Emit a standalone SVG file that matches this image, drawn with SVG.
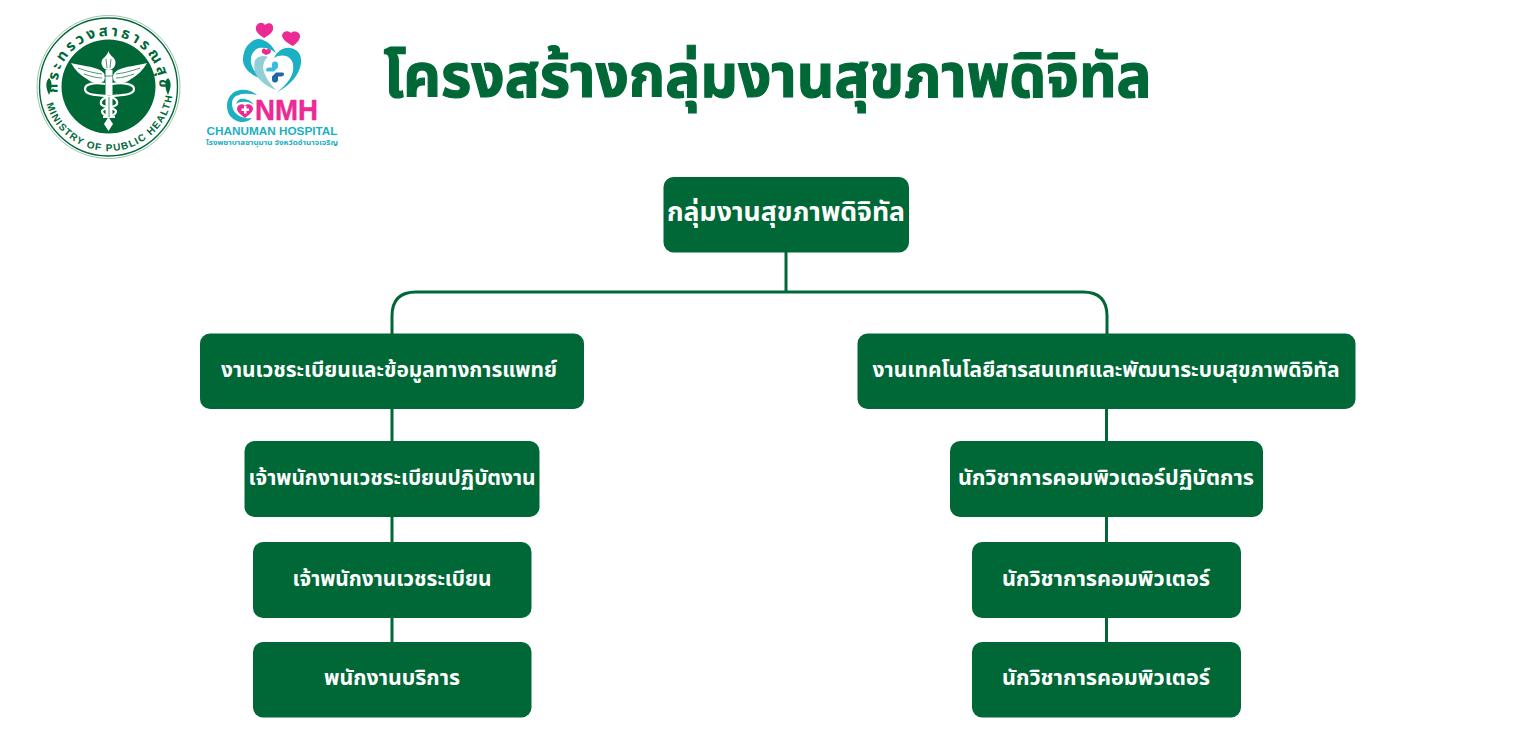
<svg xmlns="http://www.w3.org/2000/svg" width="1538" height="750" viewBox="0 0 1538 750">
<style>
.n{fill:#006837}
.t{fill:#fff;font-family:"Noto Sans Thai","Noto Sans","Liberation Sans",sans-serif;font-weight:700;text-anchor:middle}
.c{fill:none;stroke:#006837;stroke-width:3}
.h{fill:#ec2a94}
.b{fill:#1cb0c4}
.s{fill:#006837;font-family:"Noto Sans Thai","Noto Sans","Liberation Sans",sans-serif;font-weight:700}
.e{fill:none;stroke:#fff;stroke-width:2.200}
.f{fill:none;stroke:#006837;stroke-width:.7}
</style>
<defs>
<path id="top" d="M58 94A51 51 0 1 1 159 94"/>
<path id="bot" d="M45 98A64.500 64.500 0 0 0 172 98"/>
</defs>
<rect width="1538" height="750" fill="#fff"/>
<g id="seal">
<circle cx="108.500" cy="87" r="71.500" fill="#fff" stroke="#9cc4ad" stroke-width="1"/>
<circle cx="108.500" cy="87" r="69" fill="none" stroke="#006837" stroke-width="1.400"/>
<circle cx="108.500" cy="86.500" r="47" fill="#006837"/>
<text class="s" font-size="15" letter-spacing="2.900"><textPath href="#top" startOffset="1">กระทรวงสาธารณสุข</textPath></text>
<text class="s" font-size="10" letter-spacing="1.200" style="font-family:'Liberation Sans',sans-serif"><textPath href="#bot" startOffset="6">MINISTRY OF PUBLIC HEALTH</textPath></text>
<path d="M71 63C82 66 92 66 100 70C105 73 106 76 104 81C98 85 92 83 87 79C80 75 75 70 71 63ZM147 63C136 66 126 66 118 70C113 73 112 76 114 81C120 85 126 83 131 79C138 75 143 70 147 63Z" fill="#fff"/>
<path class="f" d="M78 68C86 71 94 73 102 74M84 74C90 76 96 78 102 78M140 68C132 71 124 73 116 74M134 74C128 76 122 78 116 78"/>
<path d="M108.500 51C110 56 113 56 115 60C117 65 113 70 108.500 70C104 70 100 65 102 60C104 57 107 56 108.500 51Z" fill="#fff"/>
<path class="f" d="M106 59L107 68M111 59L110 68"/>
<rect x="105.500" y="70" width="7" height="25" fill="#fff"/>
<path class="f" d="M104 76H113"/>
<path class="e" d="M105 84C94 82 85 84 85 89C85 95 96 95 106 96C114 97 118 100 117 104C115 108 104 107 102 111C102 115 108 117 115 117"/>
<path class="e" d="M112 84C123 82 134 84 134 89C134 95 122 95 112 96C104 97 100 100 101 104C103 108 114 107 116 111C116 115 110 117 103 117"/>
<path d="M105.500 96h7v22h-7z" fill="#fff"/>
<path class="f" d="M109 97V117"/>
<path d="M108.500 117L113 124L108.500 131L104 124Z" fill="#fff"/>
<path d="M49 78C52 81 53 86 49 95C45 86 46 81 49 78ZM168 78C171 81 172 86 168 95C164 86 165 81 168 78Z" fill="#006837"/>
</g>
<g id="hospital-logo">
<path class="h" d="M264 38C258 34 255 31 256 27C257 23 262 21 265 25C268 22 273 23 273 27C274 31 270 35 264 38Z"/>
<path class="h" d="M293 46C287 43 282 39 282 35C283 31 288 30 291 33C294 30 300 32 300 36C300 40 297 43 293 46Z"/>
<path class="h" d="M266 55C263 54 261 52 262 50C263 48 265 48 266 50C268 48 271 49 271 51C271 53 269 54 266 55Z"/>
<path class="b" d="M265 80C251 76 242 68 243 58C244 46 252 39 259 39C267 40 273 46 276 53C271 49 265 47 259 48C253 50 250 56 251 63C253 71 258 76 265 80Z"/>
<path class="b" d="M277 92C288 84 295 74 293 64C291 56 283 53 274 58C277 51 284 47 290 48C298 49 302 55 301 63C300 74 290 86 277 92Z"/>
<path d="M255 60C258 56 264 55 268 57C264 60 262 66 264 72C266 78 270 84 276 90C266 86 258 80 255 72C254 68 254 64 255 60Z" fill="#8fd0d6"/>
<path d="M266 70.500c0-2 1-3 3-3h3v-3c0-2 1-3 3-3s3 1 3 3v3l-4 4h-5c-2 0-3-.5-3-1z" fill="#36bde0"/>
<path d="M284 73.500c0 2-1 3-3 3h-3v3c0 2-1 3-3 3s-3-1-3-3v-3l4-4h5c2 0 3 .5 3 1z" fill="#1f65ad"/>
<path class="b" d="M257 95C252 91 247 89 240 90C232 91 227 98 227 106C227 115 233 121 241 122C247 122 250 120 252 118C245 119 238 117 234 111C230 104 232 96 239 95C244 93 251 94 257 95Z"/>
<path class="b" d="M236 104C241 101 249 101 254 105C251 100 245 98 240 99C238 100 237 102 236 104Z"/>
<path class="h" d="M245 118C240 114 237 112 237 108C238 104 243 103 245 106C247 103 252 104 253 108C253 112 250 114 245 118Z"/>
<path d="M244 106h2.500v2.500h2.500v2.500h-2.500v2.500h-2.500v-2.500h-2.500v-2.500h2.500z" fill="#fff"/>
<text x="255" y="120" font-family="Liberation Sans,sans-serif" font-weight="700" font-size="30" fill="#ec2a94" textLength="63" lengthAdjust="spacingAndGlyphs" stroke="#ec2a94" stroke-width=".4">NMH</text>
<text x="206.500" y="134.500" font-family="Liberation Sans,sans-serif" font-weight="700" font-size="11.500" fill="#1cb0c4" textLength="131" lengthAdjust="spacingAndGlyphs">CHANUMAN HOSPITAL</text>
<text x="206" y="145" font-family="'Noto Sans Thai',Noto Sans,Liberation Sans,sans-serif" font-weight="700" font-size="7" fill="#1cb0c4" textLength="132" lengthAdjust="spacingAndGlyphs">โรงพยาบาลชานุมาน จังหวัดอำนาจเจริญ</text>
</g>
<text id="title" x="767.500" y="97" class="t" style="fill:#006837;stroke:#006837;stroke-width:1.200" font-size="60" textLength="768" lengthAdjust="spacingAndGlyphs">โครงสร้างกลุ่มงานสุขภาพดิจิทัล</text>
<g id="connectors">
<path class="c" d="M786 252V292"/>
<path class="c" d="M392 334V316Q392 292 416 292H1083Q1107 292 1107 316V334"/>
<path class="c" d="M392 408V642M1106.500 408V642"/>
</g>
<g id="n0"><rect class="n" x="663.500" y="177" width="245.500" height="75.500" rx="10"/><text class="t" x="786" y="221" font-size="26" textLength="238" lengthAdjust="spacingAndGlyphs">กลุ่มงานสุขภาพดิจิทัล</text></g>
<g id="n1"><rect class="n" x="200" y="333.500" width="384" height="75.500" rx="10"/><text class="t" x="389" y="377" font-size="21" textLength="336" lengthAdjust="spacingAndGlyphs">งานเวชระเบียนและข้อมูลทางการแพทย์</text></g>
<g id="n2"><rect class="n" x="857.500" y="333.500" width="498" height="75.500" rx="10"/><text class="t" x="1106" y="377" font-size="21" textLength="467" lengthAdjust="spacingAndGlyphs">งานเทคโนโลยีสารสนเทศและพัฒนาระบบสุขภาพดิจิทัล</text></g>
<g id="n3"><rect class="n" x="244.500" y="441" width="295" height="76" rx="10"/><text class="t" x="392" y="485" font-size="21" textLength="287" lengthAdjust="spacingAndGlyphs">เจ้าพนักงานเวชระเบียนปฏิบัตงาน</text></g>
<g id="n4"><rect class="n" x="950" y="441" width="313" height="76" rx="10"/><text class="t" x="1106" y="485" font-size="21" textLength="296" lengthAdjust="spacingAndGlyphs">นักวิชาการคอมพิวเตอร์ปฏิบัตการ</text></g>
<g id="n5"><rect class="n" x="253" y="542" width="278.500" height="76" rx="10"/><text class="t" x="392" y="586" font-size="21" textLength="199" lengthAdjust="spacingAndGlyphs">เจ้าพนักงานเวชระเบียน</text></g>
<g id="n6"><rect class="n" x="972" y="542" width="269" height="76" rx="10"/><text class="t" x="1106" y="586" font-size="21" textLength="208" lengthAdjust="spacingAndGlyphs">นักวิชาการคอมพิวเตอร์</text></g>
<g id="n7"><rect class="n" x="253" y="642" width="278.500" height="75.500" rx="10"/><text class="t" x="392" y="685" font-size="21" textLength="136" lengthAdjust="spacingAndGlyphs">พนักงานบริการ</text></g>
<g id="n8"><rect class="n" x="972" y="642" width="269" height="75.500" rx="10"/><text class="t" x="1106" y="685" font-size="21" textLength="208" lengthAdjust="spacingAndGlyphs">นักวิชาการคอมพิวเตอร์</text></g>
</svg>
